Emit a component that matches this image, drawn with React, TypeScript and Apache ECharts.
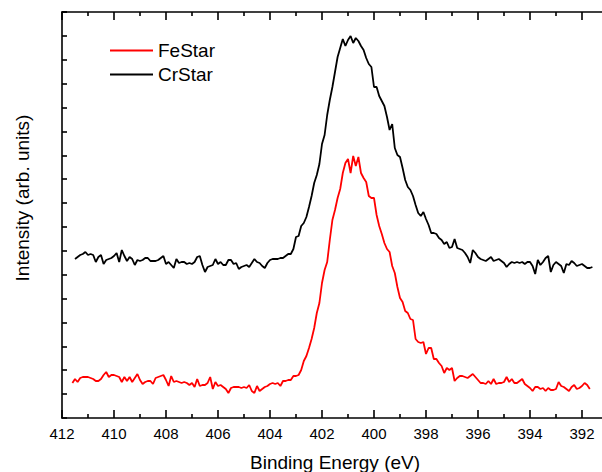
import React, { useEffect, useRef } from "react";
import * as echarts from "echarts";

// Energy sampling grid (eV)
const STEP_EV = 0.1;
const FE_START_EV = 411.6;
const CR_START_EV = 411.5;

// Intensities (arb. units), one per energy step, high → low binding energy
const feStar = [
  35, 39, 36, 40, 41, 41, 41, 40, 39, 37,
  37, 39, 43, 46, 41, 43, 43, 42, 41, 36,
  41, 37, 41, 36, 40, 44, 38, 34, 36, 37,
  37, 34, 40, 41, 42, 43, 38, 32, 42, 36,
  37, 36, 35, 36, 35, 33, 35, 31, 39, 32,
  33, 33, 35, 41, 29, 36, 32, 33, 31, 29,
  25, 30, 31, 31, 31, 30, 31, 30, 33, 27,
  25, 32, 27, 29, 31, 32, 34, 35, 34, 35,
  32, 37, 37, 38, 38, 42, 42, 43, 48, 57,
  62, 70, 79, 90, 105, 115, 135, 148, 156, 178,
  198, 208, 220, 229, 245, 255, 259, 245, 262, 252,
  261, 245, 240, 236, 222, 220, 220, 203, 192, 184,
  175, 169, 166, 152, 145, 131, 120, 116, 107, 105,
  99, 98, 79, 76, 75, 76, 64, 70, 70, 59,
  59, 55, 52, 45, 50, 48, 50, 37, 40, 42,
  42, 41, 40, 42, 44, 41, 38, 35, 35, 34,
  37, 34, 39, 34, 35, 35, 36, 41, 36, 39,
  35, 35, 37, 39, 34, 32, 30, 27, 31, 31,
  29, 30, 27, 30, 28, 28, 29, 36, 32, 31,
  29, 27, 31, 33, 29, 30, 32, 35, 33, 29,
];

const crStar = [
  159, 161, 163, 164, 166, 163, 164, 163, 156, 161,
  163, 154, 158, 159, 160, 162, 165, 156, 168, 162,
  157, 161, 159, 153, 158, 157, 158, 160, 160, 157,
  157, 157, 158, 160, 162, 154, 156, 153, 150, 159,
  155, 156, 156, 154, 155, 154, 156, 161, 162, 153,
  146, 151, 152, 153, 159, 154, 156, 153, 153, 158,
  158, 154, 155, 149, 151, 152, 153, 151, 155, 159,
  156, 155, 152, 150, 155, 158, 159, 159, 159, 160,
  160, 162, 164, 164, 169, 181, 182, 192, 195, 201,
  211, 222, 235, 243, 254, 274, 283, 303, 318, 331,
  346, 361, 370, 379, 372, 378, 382, 375, 380, 377,
  372, 368, 360, 354, 351, 331, 331, 322, 317, 312,
  301, 288, 294, 270, 263, 261, 250, 238, 231, 228,
  222, 213, 205, 202, 206, 199, 193, 185, 185, 184,
  180, 178, 174, 176, 170, 171, 179, 170, 169, 168,
  165, 161, 155, 168, 165, 161, 159, 158, 157, 159,
  161, 157, 158, 159, 157, 155, 151, 154, 156, 155,
  156, 155, 156, 154, 156, 156, 152, 144, 158, 153,
  156, 160, 162, 146, 153, 156, 154, 152, 145, 154,
  153, 157, 155, 152, 153, 154, 152, 150, 150, 151,
];

const seriesNames = ["FeStar", "CrStar"];
const xTitle = "Binding Energy (eV)";
const yTitle = "Intensity (arb. units)";

const FONT = 'Arial, "Liberation Sans", sans-serif';

function toPairs(start: number, vals: number[]) {
  return vals.map((v, i) => [Number((start - i * STEP_EV).toFixed(2)), v]);
}

export default function App() {
  const ref = useRef<HTMLDivElement>(null);

  useEffect(() => {
    if (!ref.current) return;
    const chart = echarts.init(ref.current, null, { renderer: "svg" });

    const axisColor = "#000";
    const xAxisBase = {
      type: "value" as const,
      inverse: true,
      min: 390,
      max: 412,
      interval: 2,
      axisLine: { show: true, onZero: false, lineStyle: { color: axisColor, width: 1.6 } },
      axisTick: { show: true, inside: true, length: 8, lineStyle: { color: axisColor, width: 1.6 } },
      minorTick: { show: true, splitNumber: 2, length: 4, lineStyle: { color: axisColor, width: 1.6 } },
      splitLine: { show: false },
      minorSplitLine: { show: false },
    };

    chart.setOption({
      animation: false,
      backgroundColor: "#ffffff",
      grid: {
        left: 62,
        top: 12,
        right: 0,
        bottom: 54,
        containLabel: false,
        outerBoundsMode: "none",
      },
      xAxis: [
        {
          ...xAxisBase,
          position: "bottom",
          axisLabel: {
            show: true,
            margin: 8,
            color: "#000",
            fontSize: 15,
            fontFamily: FONT,
            showMinLabel: false,
            showMaxLabel: true,
          },
        },
        {
          ...xAxisBase,
          position: "top",
          axisLabel: { show: false },
        },
      ],
      yAxis: {
        type: "value",
        min: 0,
        max: 406,
        interval: 406 / 17,
        axisLine: { show: true, onZero: false, lineStyle: { color: axisColor, width: 1.6 } },
        axisTick: { show: true, inside: true, length: 5, lineStyle: { color: axisColor, width: 1.6 } },
        axisLabel: { show: false },
        splitLine: { show: false },
      },
      legend: {
        orient: "vertical",
        left: 105,
        top: 36,
        icon: "rect",
        itemWidth: 43,
        itemHeight: 2,
        itemGap: 5,
        textStyle: { fontSize: 19, lineHeight: 19, color: "#000", fontFamily: FONT },
        data: seriesNames,
      },
      series: [
        {
          name: seriesNames[0],
          type: "line",
          xAxisIndex: 0,
          data: toPairs(FE_START_EV, feStar),
          showSymbol: false,
          symbol: "none",
          color: "#ff0000",
          lineStyle: { color: "#ff0000", width: 1.8 },
        },
        {
          name: seriesNames[1],
          type: "line",
          xAxisIndex: 0,
          data: toPairs(CR_START_EV, crStar),
          showSymbol: false,
          symbol: "none",
          color: "#000000",
          lineStyle: { color: "#000000", width: 1.8 },
        },
      ],
      graphic: [
        {
          type: "text",
          x: 335,
          y: 462,
          style: {
            text: xTitle,
            font: `19px ${FONT}`,
            fill: "#000",
            textAlign: "center",
            textVerticalAlign: "middle",
          },
        },
        {
          type: "text",
          x: 22,
          y: 198,
          rotation: Math.PI / 2,
          style: {
            text: yTitle,
            font: `19px ${FONT}`,
            fill: "#000",
            textAlign: "center",
            textVerticalAlign: "middle",
          },
        },
      ],
    });

    return () => chart.dispose();
  }, []);

  return (
    <div
      style={{
        position: "fixed",
        left: 0,
        top: 0,
        width: 602,
        height: 472,
        overflow: "hidden",
        background: "#fff",
      }}
    >
      <div ref={ref} style={{ width: 634, height: 472 }} />
    </div>
  );
}
